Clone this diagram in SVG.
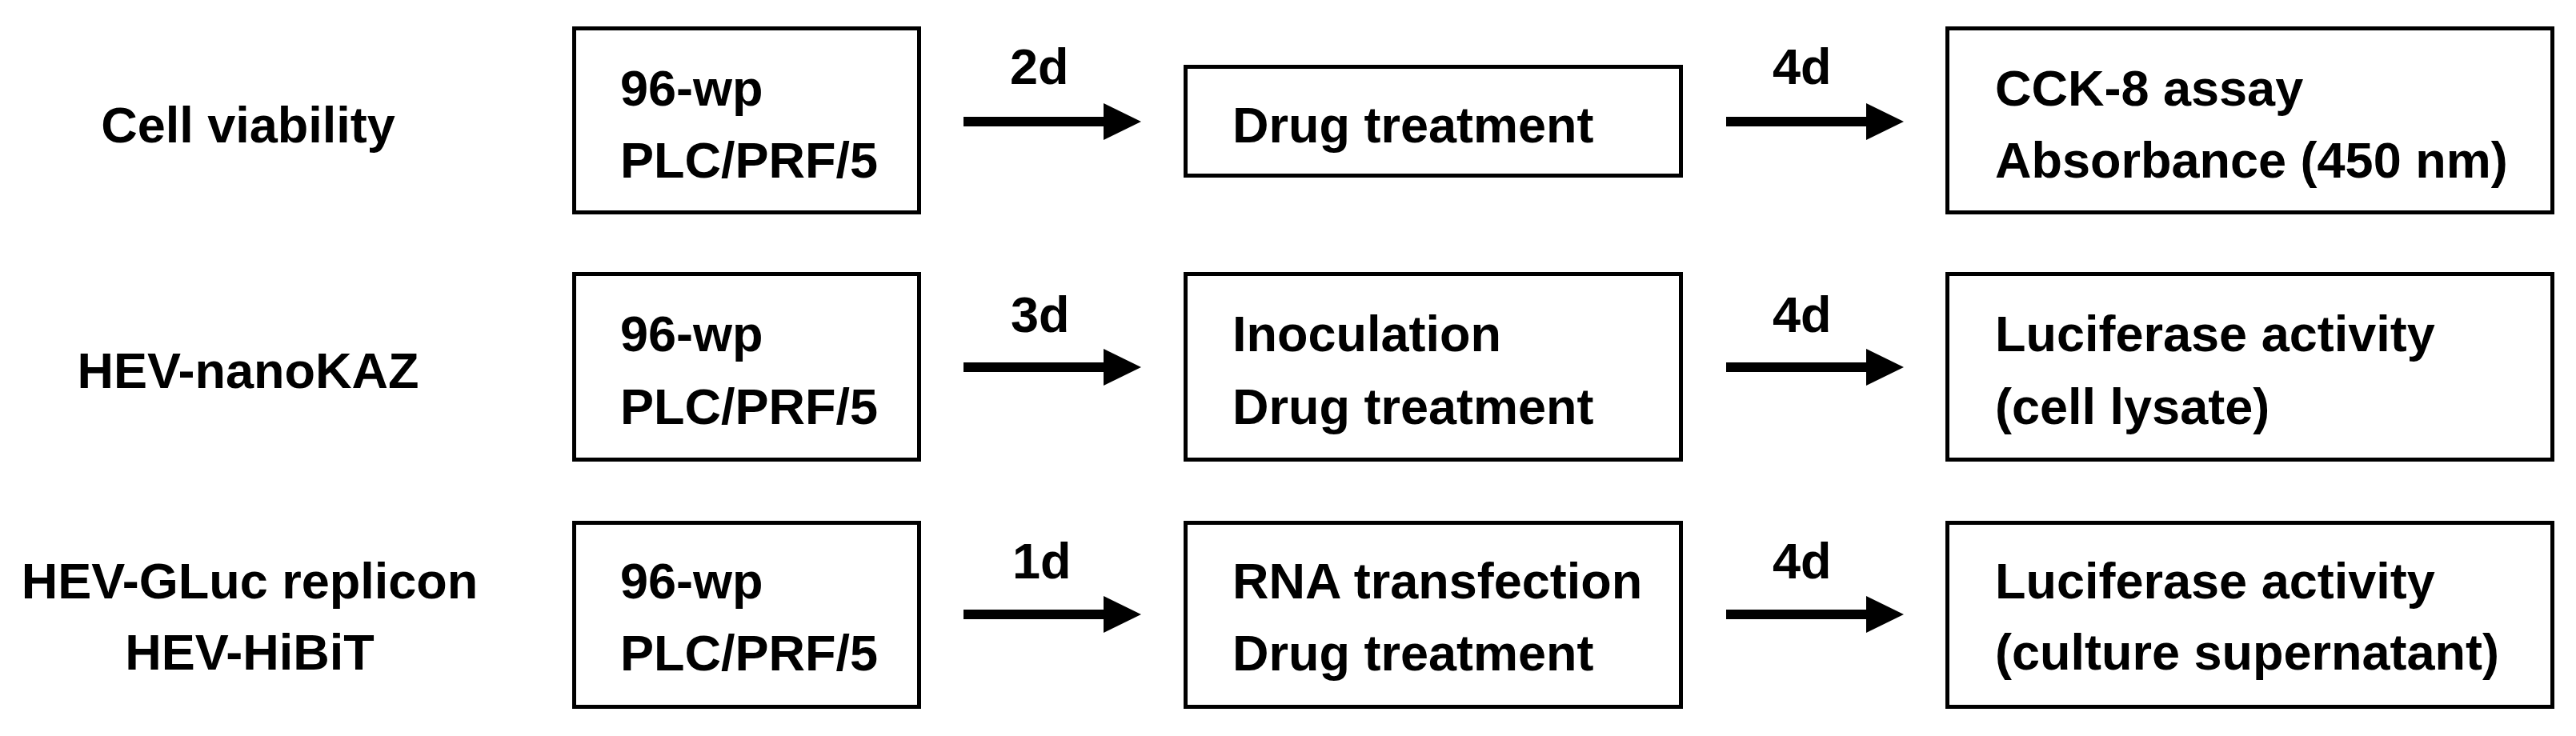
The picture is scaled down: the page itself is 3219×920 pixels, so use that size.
<svg xmlns="http://www.w3.org/2000/svg" width="3219" height="920" viewBox="0 0 3219 920">
<style>
text{font-family:"Liberation Sans",Arial,Helvetica,sans-serif;font-weight:bold;font-size:63px;fill:#000}
.lbl{text-anchor:middle}
.box{fill:#fff;stroke:#000;stroke-width:5}
.arr{stroke:#000;stroke-width:12;fill:none}
</style>
<defs>
<marker id="ah" markerUnits="userSpaceOnUse" markerWidth="47" markerHeight="46" viewBox="0 0 47 46" refX="0" refY="23" orient="auto">
<path d="M0,0 L47,23 L0,46 Z" fill="#000"/>
</marker>
</defs>
<rect x="0" y="0" width="3219" height="920" fill="#fff"/>

<g id="row-labels">
<text class="lbl" x="310" y="178">Cell viability</text>
<text class="lbl" x="310" y="485">HEV-nanoKAZ</text>
<text class="lbl" x="312" y="748">HEV-GLuc replicon</text>
<text class="lbl" x="312" y="837">HEV-HiBiT</text>
</g>

<g id="connectors">
<line class="arr" x1="1204" y1="152" x2="1379" y2="152" marker-end="url(#ah)"/>
<line class="arr" x1="2157" y1="152" x2="2332" y2="152" marker-end="url(#ah)"/>
<line class="arr" x1="1204" y1="459" x2="1379" y2="459" marker-end="url(#ah)"/>
<line class="arr" x1="2157" y1="459" x2="2332" y2="459" marker-end="url(#ah)"/>
<line class="arr" x1="1204" y1="768" x2="1379" y2="768" marker-end="url(#ah)"/>
<line class="arr" x1="2157" y1="768" x2="2332" y2="768" marker-end="url(#ah)"/>
<text x="1262" y="105">2d</text>
<text x="2215" y="105">4d</text>
<text x="1263" y="415">3d</text>
<text x="2215" y="415">4d</text>
<text x="1265" y="723">1d</text>
<text x="2215" y="723">4d</text>
</g>

<g id="r1-plate">
<rect class="box" x="717.5" y="35.5" width="431" height="230"/>
<text x="775" y="132">96-wp</text>
<text x="775" y="222">PLC/PRF/5</text>
</g>
<g id="r1-drug">
<rect class="box" x="1481.5" y="83.5" width="619" height="136"/>
<text x="1540" y="178">Drug treatment</text>
</g>
<g id="r1-cck8">
<rect class="box" x="2433.5" y="35.5" width="756" height="230"/>
<text x="2493" y="132">CCK-8 assay</text>
<text x="2493" y="222">Absorbance (450 nm)</text>
</g>

<g id="r2-plate">
<rect class="box" x="717.5" y="342.5" width="431" height="232"/>
<text x="775" y="439">96-wp</text>
<text x="775" y="530">PLC/PRF/5</text>
</g>
<g id="r2-inoc">
<rect class="box" x="1481.5" y="342.5" width="619" height="232"/>
<text x="1540" y="439">Inoculation</text>
<text x="1540" y="530">Drug treatment</text>
</g>
<g id="r2-luc">
<rect class="box" x="2433.5" y="342.5" width="756" height="232"/>
<text x="2493" y="439">Luciferase activity</text>
<text x="2493" y="530">(cell lysate)</text>
</g>

<g id="r3-plate">
<rect class="box" x="717.5" y="653.5" width="431" height="230"/>
<text x="775" y="748">96-wp</text>
<text x="775" y="838">PLC/PRF/5</text>
</g>
<g id="r3-rna">
<rect class="box" x="1481.5" y="653.5" width="619" height="230"/>
<text x="1540" y="748">RNA transfection</text>
<text x="1540" y="838">Drug treatment</text>
</g>
<g id="r3-luc">
<rect class="box" x="2433.5" y="653.5" width="756" height="230"/>
<text x="2493" y="748">Luciferase activity</text>
<text x="2493" y="837">(culture supernatant)</text>
</g>
</svg>
